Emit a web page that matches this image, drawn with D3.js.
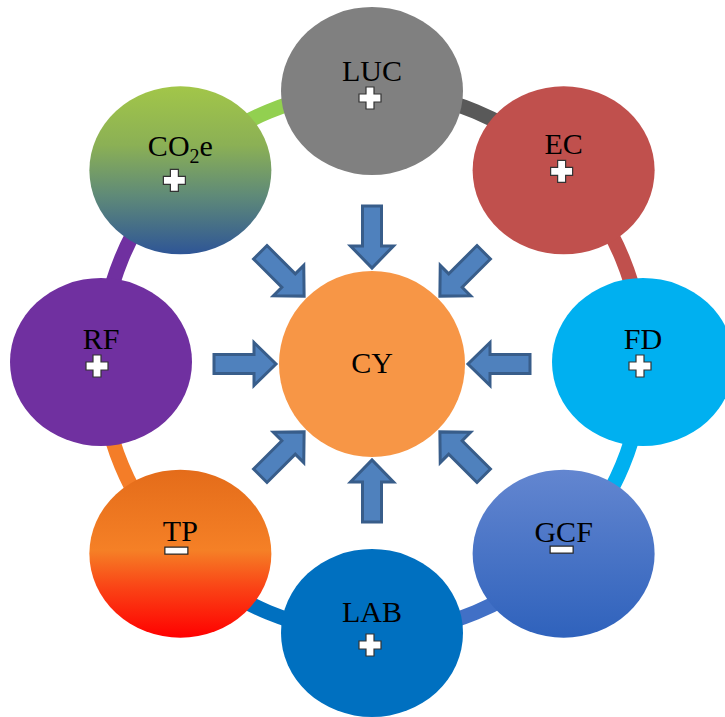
<!DOCTYPE html>
<html>
<head>
<meta charset="utf-8">
<script src="https://cdn.jsdelivr.net/npm/d3@7/dist/d3.min.js"></script>
<style>
  html, body { margin: 0; padding: 0; background: #fff; }
  svg { display: block; }
</style>
</head>
<body>
<svg id="chart" width="725" height="717"></svg>
<script>
// ---- data ----
const nodeNames  = ["LUC", "EC", "FD", "GCF", "LAB", "TP", "RF", "CO2e"];
const nodeSigns  = ["+", "+", "+", "-", "+", "-", "+", "+"];
const nodeFills  = ["#808080", "#c0504d", "#00b0f0", "url(#gGCF)", "#0070c0", "url(#gTP)", "#7030a0", "url(#gCO2)"];
const bandColors = ["#595959", "#c0504d", "#00b0f0", "#4170c6", "#0070c0", "#f47d28", "#7030a0", "#92d050"];
const centerName = "CY";
const arrowAngles = [-90, -45, 0, 45, 90, 135, 180, -135]; // direction (deg) from center to arrow

// ---- layout ----
const svg = d3.select("#chart");
const cx = 372, cy = 362, ringR = 271;
const rx = 91, ry = 84;
// label fine offsets: [baseline dy, sign dy, sign dx]
const labelOff = {
  LUC: [-10, 7, -2], EC: [-16, 1, -2], FD: [-13, 4, -3], GCF: [-12, -4, -2],
  LAB: [-11, 12, -2], TP: [-13, -3, -4], RF: [-13, 4, -4], CO2e: [-14, 10, -6]
};

const defs = svg.append("defs");
function grad(id, stops) {
  const g = defs.append("linearGradient").attr("id", id)
    .attr("x1", 0).attr("y1", 0).attr("x2", 0).attr("y2", 1);
  stops.forEach(s => g.append("stop").attr("offset", s[0]).attr("stop-color", s[1]));
}
grad("gCO2", [[0, "#a2c649"], [0.35, "#8bb055"], [0.65, "#5f8a78"], [1, "#2e5596"]]);
grad("gTP", [[0, "#e46c1a"], [0.48, "#f58026"], [0.7, "#fa4416"], [1, "#ff0000"]]);
grad("gGCF", [[0, "#6386d0"], [1, "#2f62bc"]]);

const angle = d3.scaleLinear().domain([0, nodeNames.length]).range([-Math.PI / 2, 1.5 * Math.PI]);
const nodes = nodeNames.map((n, i) => ({
  name: n, sign: nodeSigns[i], fill: nodeFills[i], band: bandColors[i],
  a0: angle(i), a1: angle(i + 1),
  x: cx + ringR * Math.cos(angle(i)), y: cy + ringR * Math.sin(angle(i))
}));

// ring bands
const arc = d3.arc().innerRadius(ringR - 7.5).outerRadius(ringR + 7.5);
svg.append("g").attr("transform", `translate(${cx},${cy})`)
  .selectAll("path").data(nodes).join("path")
  .attr("d", d => arc({ startAngle: d.a0 + Math.PI / 2, endAngle: d.a1 + Math.PI / 2 }))
  .attr("fill", d => d.band);

// outer nodes
const ng = svg.append("g").selectAll("g").data(nodes).join("g")
  .attr("transform", d => `translate(${d.x},${d.y})`);
ng.append("ellipse").attr("rx", rx).attr("ry", ry).attr("fill", d => d.fill);

const txt = ng.append("text")
  .attr("text-anchor", "middle")
  .attr("y", d => labelOff[d.name][0])
  .attr("font-family", "'Liberation Serif', 'Times New Roman', serif")
  .attr("font-size", 30).attr("fill", "#000");
txt.each(function (d) {
  const t = d3.select(this);
  if (d.name === "CO2e") {
    t.append("tspan").text("CO");
    t.append("tspan").text("2").attr("font-size", 20).attr("dy", 7);
    t.append("tspan").text("e").attr("dy", -7);
  } else {
    t.text(d.name);
  }
});

// signs
ng.each(function (d) {
  const g = d3.select(this);
  const [by, sy, sx] = labelOff[d.name];
  const sg = g.append("g").attr("transform", `translate(${sx},${sy})`);
  if (d.sign === "+") {
    const a = 11, w = 4;
    sg.append("path")
      .attr("d", `M${-w},${-a}H${w}V${-w}H${a}V${w}H${w}V${a}H${-w}V${w}H${-a}V${-w}H${-w}Z`)
      .attr("fill", "#fff").attr("stroke", "#333").attr("stroke-width", 1.2);
  } else {
    sg.append("rect").attr("x", -11.5).attr("y", -3.5).attr("width", 23).attr("height", 7)
      .attr("fill", "#fff").attr("stroke", "#222").attr("stroke-width", 1.2);
  }
});

// center node
svg.append("circle").attr("cx", cx).attr("cy", cy + 2).attr("r", 93).attr("fill", "#f79646");
svg.append("text").attr("x", cx).attr("y", cy + 11).attr("text-anchor", "middle")
  .attr("font-family", "'Liberation Serif', 'Times New Roman', serif")
  .attr("font-size", 30).attr("fill", "#000").text(centerName);

// arrows (drawn in local coords pointing +x, tail at 0, tip at L)
const L = 62, sh = 9.5, hh = 21.5, hl = 22;
const arrowPath = `M0,${-sh}H${L - hl}V${-hh}L${L},0L${L - hl},${hh}V${sh}H0Z`;
const tailR = 158;
svg.append("g").selectAll("path").data(arrowAngles).join("path")
  .attr("d", arrowPath)
  .attr("transform", a => {
    const r = a * Math.PI / 180;
    const tx = cx + tailR * Math.cos(r), ty = cy + 2 + tailR * Math.sin(r);
    return `translate(${tx},${ty}) rotate(${a + 180})`;
  })
  .attr("fill", "#4f81bd").attr("stroke", "#385d8a").attr("stroke-width", 3)
  .attr("stroke-linejoin", "miter");
</script>
</body>
</html>
